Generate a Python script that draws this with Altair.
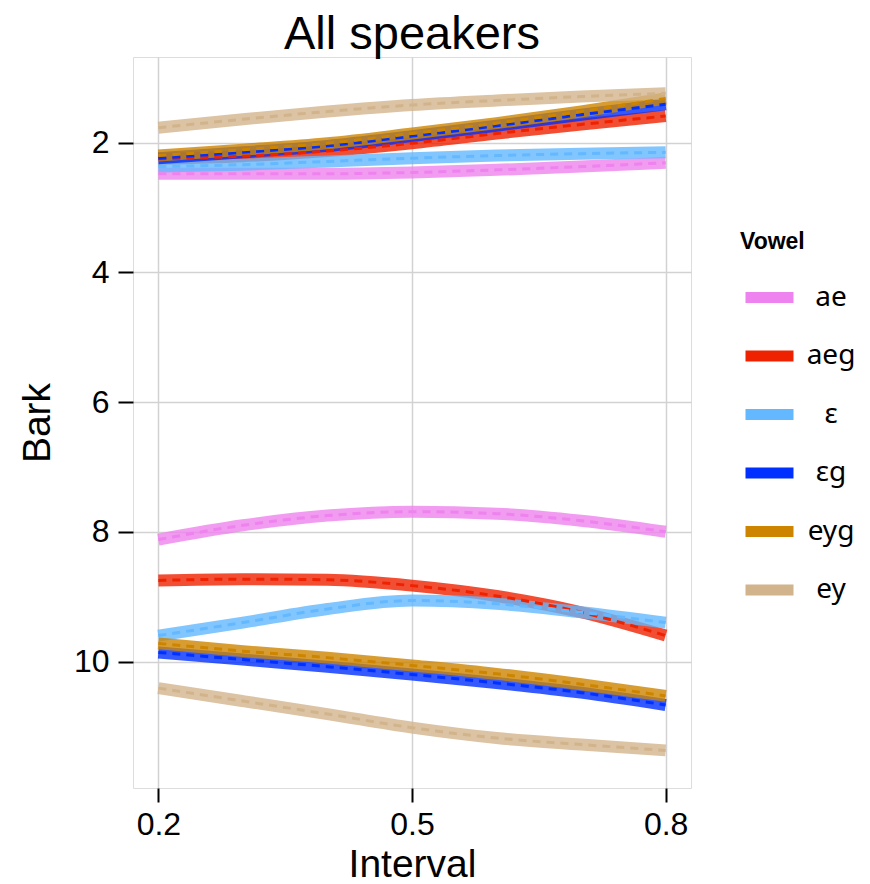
import altair as alt
import pandas as pd

interval = [0.2, 0.3, 0.4, 0.5, 0.6, 0.7, 0.8]
vowels = ["ae", "aeg", "ε", "εg", "eyg", "ey"]
colors = ["#EE82EE", "#EE2200", "#63B8FF", "#0030FF", "#CD8500", "#D2B48C"]

# upper curves (lower Bark values)
upper = {
    "ae":  [2.48, 2.48, 2.48, 2.46, 2.42, 2.37, 2.31],
    "aeg": [2.25, 2.21, 2.13, 2.01, 1.86, 1.72, 1.59],
    "ε":   [2.37, 2.34, 2.29, 2.24, 2.20, 2.17, 2.15],
    "εg":  [2.24, 2.15, 2.05, 1.90, 1.74, 1.57, 1.41],
    "eyg": [2.20, 2.11, 2.01, 1.86, 1.70, 1.52, 1.32],
    "ey":  [1.77, 1.64, 1.52, 1.42, 1.35, 1.29, 1.24],
}
# lower curves (higher Bark values)
lower = {
    "ae":  [8.12, 7.90, 7.75, 7.69, 7.72, 7.83, 8.00],
    "aeg": [8.75, 8.73, 8.74, 8.83, 8.99, 9.24, 9.60],
    "ε":   [9.60, 9.40, 9.19, 9.06, 9.11, 9.24, 9.40],
    "εg":  [9.86, 9.97, 10.08, 10.20, 10.33, 10.48, 10.67],
    "eyg": [9.72, 9.84, 9.94, 10.06, 10.19, 10.35, 10.53],
    "ey":  [10.41, 10.61, 10.81, 11.02, 11.18, 11.28, 11.37],
}

rows = []
for v in vowels:
    for cname, src in (("upper", upper), ("lower", lower)):
        for x, y in zip(interval, src[v]):
            rows.append({"Vowel": v, "Curve": v + "_" + cname, "Interval": x, "Bark": y})
df = pd.DataFrame(rows)

font = "Liberation Sans"

x_enc = alt.X(
    "Interval:Q",
    scale=alt.Scale(domain=[0.17, 0.83], nice=False, zero=False),
    axis=alt.Axis(values=[0.2, 0.5, 0.8], format=".1f", title="Interval",
                  labelFontSize=32, titleFontSize=39, labelFont=font, titleFont=font,
                  titleFontWeight="normal", labelColor="black", titleColor="black",
                  tickSize=14, tickWidth=2, tickColor="black", labelPadding=7,
                  titlePadding=5, domain=False, grid=True, gridColor="#d2d2d2",
                  gridWidth=1.5),
)
y_enc = alt.Y(
    "Bark:Q",
    scale=alt.Scale(domain=[0.68, 11.95], nice=False, zero=False, reverse=True),
    axis=alt.Axis(values=[2, 4, 6, 8, 10], title="Bark",
                  labelFontSize=32, titleFontSize=39, labelFont=font, titleFont=font,
                  titleFontWeight="normal", labelColor="black", titleColor="black",
                  tickSize=15, tickWidth=2, tickColor="black", labelPadding=9,
                  titlePadding=16, domain=False, grid=True, gridColor="#d2d2d2",
                  gridWidth=1.5),
)
color_enc = alt.Color(
    "Vowel:N",
    scale=alt.Scale(domain=vowels, range=colors),
    sort=vowels,
    legend=alt.Legend(
        title="Vowel", orient="none", legendX=607, legendY=174,
        titleFontSize=23, titleFont=font, titleFontWeight="bold", titleColor="black",
        titlePadding=14, labelFont="Noto Sans", labelFontSize=28, labelColor="black",
        labelAlign="center", labelOffset=32,
        symbolType="stroke", symbolSize=2304, symbolStrokeWidth=11,
        symbolOpacity=1, rowPadding=6.5, padding=0,
    ),
)

band = alt.Chart(df).mark_line(strokeWidth=12, opacity=0.8, interpolate="monotone", clip=True).encode(
    x=x_enc, y=y_enc, color=color_enc, detail="Curve:N"
)
dash = alt.Chart(df).mark_line(strokeWidth=3, strokeDash=[8, 6], interpolate="monotone", clip=True).encode(
    x=x_enc, y=y_enc, color=color_enc, detail="Curve:N"
)

chart = alt.layer(band, dash).properties(
    width=558, height=731,
    autosize=alt.AutoSizeParams(type="none"),
    padding={"left": 133, "top": 57, "right": 179, "bottom": 96},
    title=alt.Title("All speakers", fontSize=47, font=font, fontWeight="normal",
                    color="black", anchor="middle", baseline="bottom", offset=0, dy=49),
).configure_view(stroke="#b0b0b0", strokeWidth=2).configure(background="white")

chart.save("out.html", embed_options={"renderer": "svg", "actions": False})
